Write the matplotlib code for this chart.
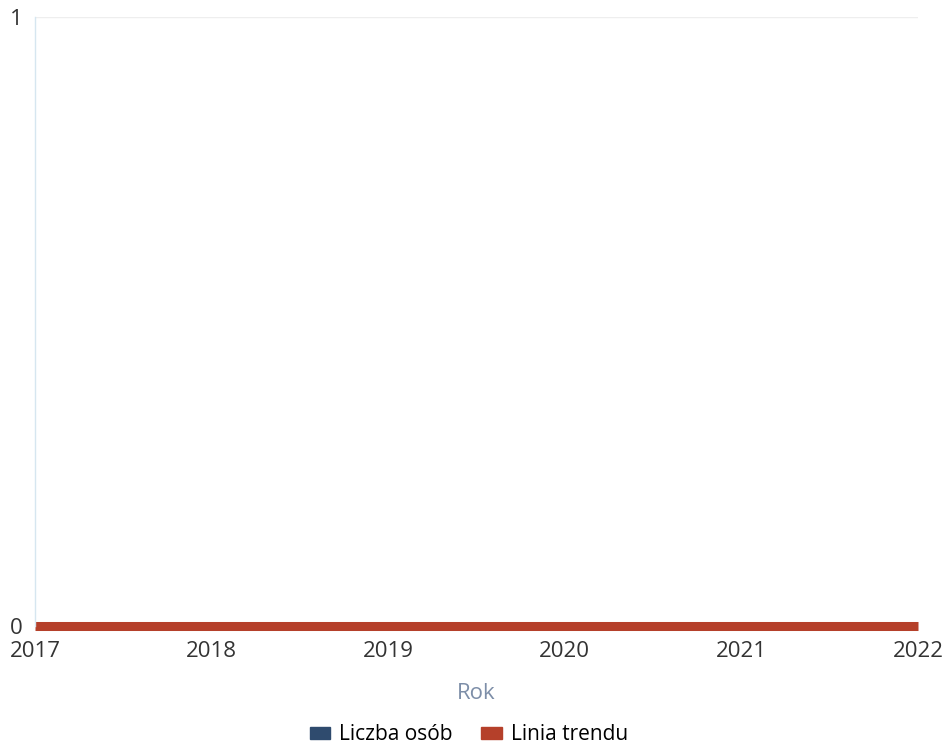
import matplotlib.pyplot as plt
import matplotlib.patches as mpatches

plt.rcParams['font.family'] = ['Open Sans', 'DejaVu Sans']

years = [2017, 2018, 2019, 2020, 2021, 2022]
liczba_osob = [0, 0, 0, 0, 0, 0]
trend = [0, 0, 0, 0, 0, 0]

bar_color = '#2f4b6e'
trend_color = '#b5402a'

fig = plt.figure(figsize=(9.43, 7.5), dpi=100)
ax = fig.add_axes([0.0371, 0.1653, 0.9364, 0.812])

ax.bar(years, liczba_osob, width=0.6, color=bar_color)
ax.plot(years, trend, color=trend_color, linewidth=6.5, solid_capstyle='butt', clip_on=False)

ax.set_xlim(2017, 2022)
ax.set_ylim(0, 1)
ax.set_yticks([0, 1])
ax.set_xticks(years)
ax.tick_params(axis='both', length=0, labelsize=16, colors='#333333')
ax.tick_params(axis='x', pad=11)
ax.tick_params(axis='y', pad=9)
for lab in ax.get_yticklabels():
    lab.set_verticalalignment('center_baseline')

for s in ['top', 'right', 'bottom']:
    ax.spines[s].set_visible(False)
ax.spines['left'].set_color('#d6e6f0')
ax.spines['left'].set_linewidth(1)
ax.axhline(1, color='#eeeeee', linewidth=1)

ax.set_xlabel('Rok', fontsize=16, color='#7d8ea8', labelpad=15)

handles = [mpatches.Patch(color=bar_color, label='Liczba osób'),
           mpatches.Patch(color=trend_color, label='Linia trendu')]
fig.legend(handles=handles, loc='center', bbox_to_anchor=(0.497, 0.02), ncol=2,
           frameon=False, fontsize=15, handlelength=1.0, handleheight=0.45,
           handletextpad=0.4, columnspacing=1.4)

fig.savefig('out.png', dpi=100)
